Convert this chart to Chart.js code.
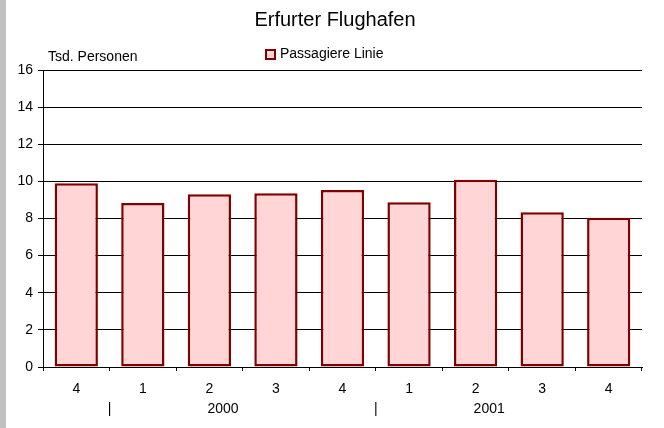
<!DOCTYPE html>
<html>
<head>
<meta charset="utf-8">
<script src="https://cdn.jsdelivr.net/npm/chart.js@4/dist/chart.umd.min.js"></script>
<style>
  html, body { margin: 0; padding: 0; background: #fff; }
  canvas { display: block; }
</style>
</head>
<body>
<canvas id="chart" width="664" height="428"></canvas>
<script>
// ── Daten ────────────────────────────────────────────────────
const quartale    = ['4', '1', '2', '3', '4', '1', '2', '3', '4'];
const passagiere  = [9.90, 8.84, 9.30, 9.36, 9.54, 8.87, 10.09, 8.33, 8.04];
const jahre       = ['2000', '2001'];
const jahrStart   = [2, 6];      // Kategorie, an der der Jahrestext beginnt
const jahrGrenzen = [0.5, 4.5];  // Trennstriche zwischen den Kategorien

const FONT = "'Liberation Sans', Arial, sans-serif";

// ── Zusatztexte (Titel, Legende, Achsentitel, Jahreszeile) ───
const extras = {
  id: 'extras',
  beforeDraw(chart) {
    const c = chart.ctx;
    c.save();
    c.fillStyle = '#c0c0c0';
    c.fillRect(0, 0, 6, chart.height);
    c.restore();
  },
  afterDraw(chart) {
    const c = chart.ctx;
    const x = chart.scales.x;
    c.save();
    c.fillStyle = '#000';
    c.textBaseline = 'middle';

    c.font = `20px ${FONT}`;
    c.textAlign = 'center';
    c.fillText('Erfurter Flughafen', 335, 20);

    c.font = `14px ${FONT}`;
    c.textAlign = 'left';
    c.fillText('Tsd. Personen', 48, 57);

    // Legende
    c.fillStyle = '#ffd5d5';
    c.fillRect(266, 50, 9, 9);
    c.strokeStyle = '#800000';
    c.lineWidth = 2;
    c.strokeRect(266, 50, 9, 9);
    c.fillStyle = '#000';
    c.fillText('Passagiere Linie', 280, 54);

    // Jahreszeile
    const yJahr = 409;
    c.textAlign = 'center';
    jahrGrenzen.forEach(v => c.fillText('|', x.getPixelForValue(v), yJahr));
    c.textAlign = 'left';
    jahre.forEach((j, i) => c.fillText(j, x.getPixelForValue(jahrStart[i]) - 2, yJahr));
    c.restore();
  }
};

// ── Diagramm ─────────────────────────────────────────────────
new Chart(document.getElementById('chart'), {
  type: 'bar',
  data: {
    labels: quartale,
    datasets: [{
      label: 'Passagiere Linie',
      data: passagiere,
      backgroundColor: '#ffd5d5',
      borderColor: '#800000',
      borderWidth: 2.5,
      borderSkipped: false,
      barPercentage: 0.65,
      categoryPercentage: 1
    }]
  },
  options: {
    responsive: false,
    animation: false,
    devicePixelRatio: 1,
    layout: { padding: { top: 70, right: 22, left: 0, bottom: 0 } },
    plugins: {
      legend: { display: false },
      title: { display: false },
      tooltip: { enabled: false }
    },
    scales: {
      x: {
        afterFit: (s) => { s.height = 61; },
        grid: {
          offset: true,
          drawOnChartArea: false,
          drawTicks: true,
          tickLength: 4,
          color: '#000'
        },
        border: { display: true, color: '#000', width: 1 },
        ticks: {
          color: '#000',
          padding: 10,
          font: { family: FONT, size: 14 }
        }
      },
      y: {
        min: 0,
        max: 16,
        afterFit: (s) => { s.width = 43; },
        grid: { color: '#000', tickLength: 5 },
        border: { display: true, color: '#000', width: 1 },
        ticks: {
          stepSize: 2,
          color: '#000',
          padding: 5,
          font: { family: FONT, size: 14 }
        }
      }
    }
  },
  plugins: [extras]
});
</script>
</body>
</html>
